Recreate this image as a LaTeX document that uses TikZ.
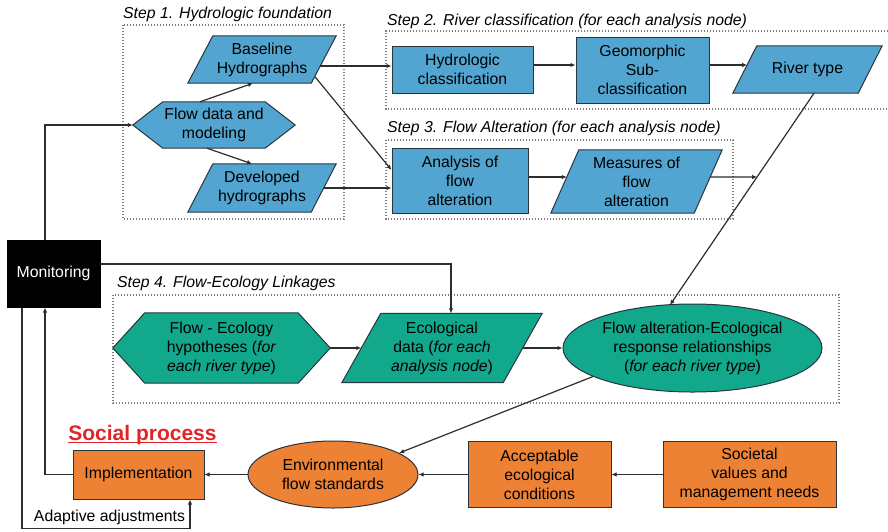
\documentclass[tikz,border=0pt]{standalone}
\usepackage{fontspec}
\setmainfont{Liberation Sans}
\usetikzlibrary{shapes.geometric,arrows.meta,calc,backgrounds}
\definecolor{cblue}{RGB}{82,165,208}
\definecolor{cgreen}{RGB}{18,168,140}
\definecolor{corange}{RGB}{238,130,52}
\definecolor{cred}{RGB}{224,36,40}
\definecolor{cedge}{RGB}{40,52,62}
\definecolor{cline}{RGB}{45,45,45}
\definecolor{cdot}{RGB}{125,125,125}
\newcommand{\paral}[3]{\path[#3] ([xshift=#2pt]#1.north west) -- (#1.north east) -- ([xshift=-#2pt]#1.south east) -- (#1.south west) -- cycle;}
\newcommand{\hexa}[3]{\path[#3] ([xshift=#2pt]#1.north west) -- ([xshift=-#2pt]#1.north east) -- (#1.east) -- ([xshift=-#2pt]#1.south east) -- ([xshift=#2pt]#1.south west) -- (#1.west) -- cycle;}
\begin{document}
\begin{tikzpicture}[x=1pt,y=-1pt,
  txt/.style={font=\fontsize{15.8}{19}\selectfont, align=center, text=black},
  frame/.style={txt, inner sep=0pt},
  boxnode/.style={txt, rectangle, draw=cedge, line width=1pt, inner sep=2pt},
  bluebox/.style={boxnode, fill=cblue},
  orangebox/.style={boxnode, fill=corange},
  monbox/.style={boxnode, fill=black, draw=black, text=white},
  greenell/.style={txt, ellipse, draw=cedge, line width=1pt, fill=cgreen, inner sep=0pt},
  orangeell/.style={txt, ellipse, draw=cedge, line width=1pt, fill=corange, inner sep=0pt},
  bluefill/.style={fill=cblue, draw=cedge, line width=1pt},
  greenfill/.style={fill=cgreen, draw=cedge, line width=1pt},
  stepbox/.style={draw=cdot, line width=1.2pt, dash pattern=on 1.2pt off 1.8pt},
  steptitle/.style={font=\fontsize{15.8}{19}\selectfont\itshape, anchor=west, inner sep=0pt},
  conn/.style={draw=cline, line width=1.2pt, -{Latex[length=5pt,width=4.5pt]}}
]
\useasboundingbox (0,0) rectangle (888,531);

% titles
\node[steptitle] (t1) at (123,14) {Step 1. Hydrologic foundation};
\node[steptitle] (t2) at (387,21) {Step 2. River classification (for each analysis node)};
\node[steptitle] (t3) at (387,128) {Step 3. Flow Alteration (for each analysis node)};
\node[steptitle] (t4) at (117,283) {Step 4. Flow-Ecology Linkages};

% nodes
\node[frame, minimum width=148, minimum height=47] (bh) at (262,59.5) {Baseline\\Hydrographs};
\node[frame, minimum width=162, minimum height=46] (fd) at (214,125) {Flow data and\\modeling};
\node[frame, minimum width=148, minimum height=48] (dh) at (262,188) {Developed\\hydrographs};
\node[bluebox, minimum width=141, minimum height=47] (hc) at (462.5,69.5) {Hydrologic\\classification};
\node[bluebox, minimum width=133, minimum height=66] (gc) at (642.5,70) {Geomorphic\\Sub-\\classification};
\node[frame, minimum width=149, minimum height=47] (rt) at (807.5,69.5) {River type};
\node[bluebox, minimum width=136, minimum height=65] (an) at (460,180.5) {Analysis of\\flow\\alteration};
\node[frame, minimum width=171, minimum height=63] (ms) at (636.5,181.5) {Measures of\\flow\\alteration};
\node[monbox, minimum width=93, minimum height=67] (mon) at (53.5,273.5) {Monitoring};
\node[frame, minimum width=217, minimum height=70] (fe) at (221.5,348) {Flow - Ecology\\hypotheses (\textit{for}\\\textit{each river type})};
\node[frame, minimum width=200, minimum height=69] (ed) at (442,348) {Ecological\\data (\textit{for each}\\\textit{analysis node})};
\node[greenell, minimum width=259, minimum height=88] (fa) at (692.5,348) {Flow alteration-Ecological\\response relationships\\(\textit{for each river type})};
\node[orangeell, minimum width=170, minimum height=67] (env) at (333,474.5) {Environmental\\flow standards};
\node[orangebox, minimum width=131, minimum height=49] (im) at (138.5,474.5) {Implementation};
\node[orangebox, minimum width=143, minimum height=66] (ac) at (539.5,474.5) {Acceptable\\ecological\\conditions};
\node[orangebox, minimum width=173, minimum height=66] (sv) at (749.5,474.5) {Societal\\values and\\management needs};

\node[font=\fontsize{21}{25}\selectfont\bfseries, text=cred, inner sep=0pt, anchor=base] (sp) at (142.5,440) {Social process};
\draw[cred, line width=1.4pt] ($(sp.base west)+(0,2.5)$) -- ($(sp.base east)+(0,2.5)$);

\node[txt, inner sep=0pt] (adl) at (109.5,517) {Adaptive adjustments};

% background: step boxes and shapes
\begin{scope}[on background layer]
  \draw[stepbox] (123,25) rectangle (344,219);
  \draw[stepbox] (888,31) -- (386,31) -- (386,109) -- (888,109);
  \draw[stepbox] (386,140) rectangle (733,219);
  \draw[stepbox] (113,295) rectangle (839,403);
  \paral{bh}{25}{bluefill}
  \paral{dh}{25}{bluefill}
  \paral{rt}{24}{bluefill}
  \paral{ms}{28}{bluefill}
  \paral{ed}{39}{greenfill}
  \hexa{fd}{30}{bluefill}
  \hexa{fe}{32}{greenfill}
\end{scope}

% connectors
\draw[conn] ([xshift=-8.5pt]mon.north) |- (fd.west);
\draw[conn] ($(fd.north)+(-14,0)$) -- ($(bh.south)+(-9,0)$);
\draw[conn] ($(fd.south)+(-7,0)$) -- ($(dh.north)+(-10,0)$);
\draw[conn] ($(bh.east)+(-16,6.5)$) -- ($(hc.west)+(0,-3.5)$);
\draw[conn] ($(bh.east)+(-21,17.5)$) -- ($(an.west)+(0,-10.5)$);
\draw[conn] ($(dh.east)+(-12.5,0)$) -- ($(an.west)+(0,7.5)$);
\draw[conn] ($(hc.east)+(0,-4.5)$) -- ($(gc.west)+(0,-5)$);
\draw[conn] ($(gc.east)+(0,-5)$) -- ($(rt.west)+(14.3,-4.5)$);
\draw[conn] ($(an.east)+(0,-3.5)$) -- ($(ms.west)+(16,-4.5)$);

\coordinate (rtS) at ($(rt.south)+(6.5,0)$);
\coordinate (faN) at ($(fa.north)+(-22.5,1.5)$);
\coordinate (msE) at ($(ms.east)+(-12,-4.5)$);
\coordinate (msF) at ($(msE)+(120,0)$);
\coordinate (jn) at (intersection of rtS--faN and msE--msF);
\draw[conn] (rtS) -- (faN);
\draw[conn] (msE) -- (jn);

\draw[conn] ($(mon.east)+(0,-9.5)$) -| ($(ed.north)+(9,0)$);
\draw[conn] (fe.east) -- ($(ed.west)+(19.5,0)$);
\draw[conn] ($(ed.east)+(-19.5,0)$) -- (fa.west);
\draw[conn] (fa.196) -- (env.18);
\draw[conn] (env.west) -- (im.east);
\draw[conn] (ac.west) -- (env.east);
\draw[conn] (sv.west) -- (ac.east);
\draw[conn] (im.west) -| ($(mon.south)+(-8.5,0)$);
\coordinate (adc) at ($(mon.south)+(-31.5,221)$);
\draw[conn] ($(mon.south)+(-31.5,0)$) -- (adc) -| ($(im.south)+(51.5,0)$);
\end{tikzpicture}
\end{document}
